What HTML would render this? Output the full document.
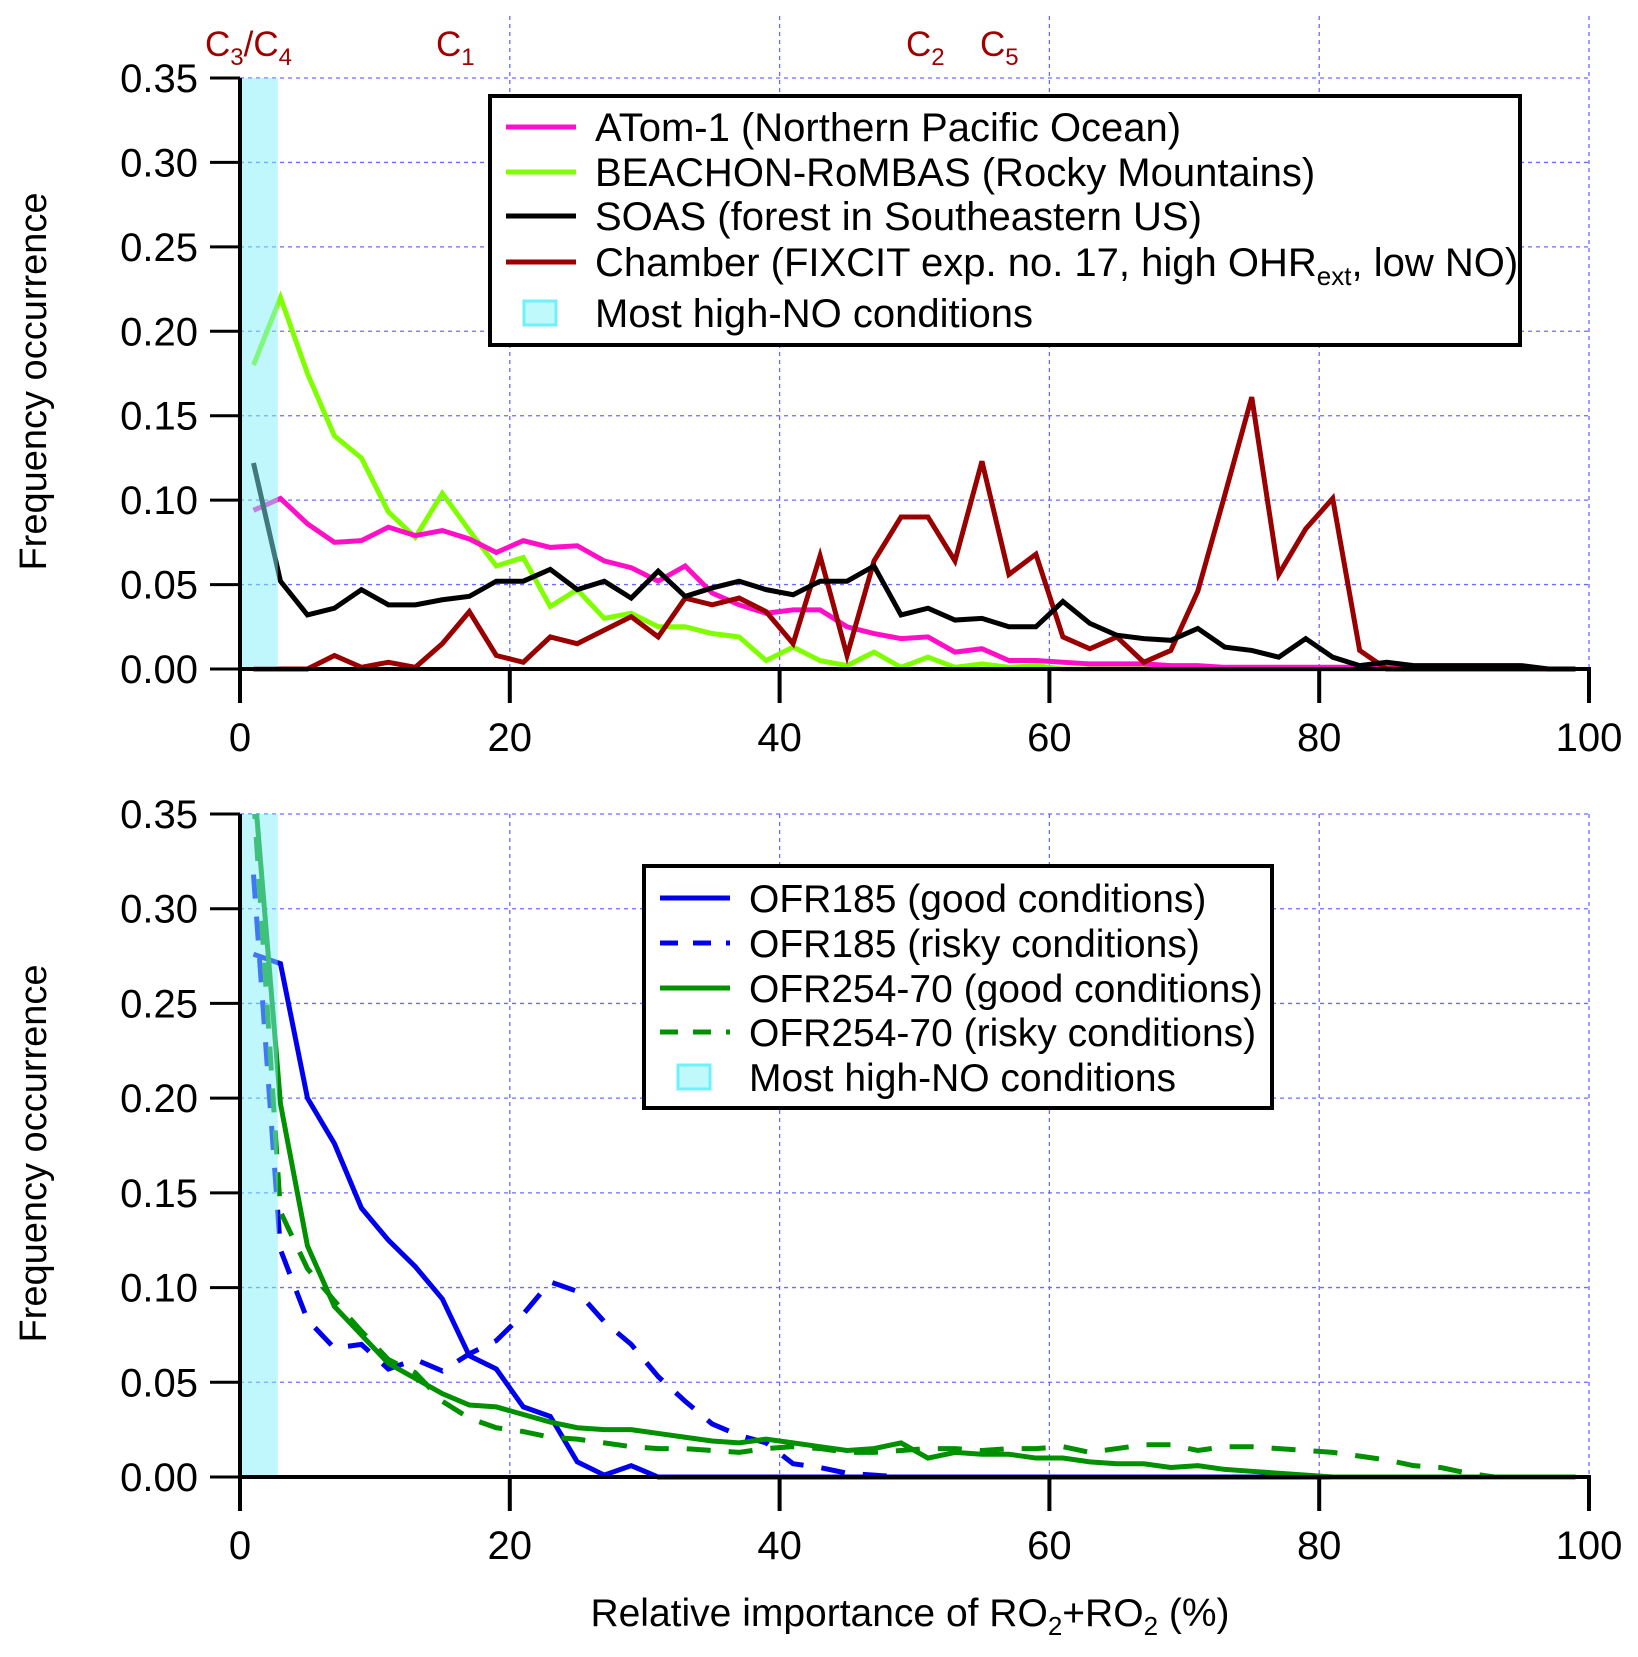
<!DOCTYPE html>
<html><head><meta charset="utf-8"><style>
html,body{margin:0;padding:0;background:#fff;}
svg{display:block;font-family:"Liberation Sans",Arial,sans-serif;}
</style></head><body>
<svg id="chart" width="1638" height="1657" viewBox="0 0 1638 1657" xmlns="http://www.w3.org/2000/svg">
<defs>
<clipPath id="clipTop"><rect x="240" y="78" width="1350" height="594"/></clipPath>
<clipPath id="clipBot"><rect x="240" y="814" width="1350" height="666"/></clipPath>
</defs>
<g id="top"></g>
<g id="bot"></g>
<text x="910" y="1626" text-anchor="middle" font-size="39">Relative importance of RO<tspan font-size="26" dy="9">2</tspan><tspan dy="-9">+RO</tspan><tspan font-size="26" dy="9">2</tspan><tspan dy="-9"> (%)</tspan></text>
<g fill="#a00000" font-size="35">
<text x="205" y="56">C<tspan font-size="24" dy="9">3</tspan><tspan dy="-9">/C</tspan><tspan font-size="24" dy="9">4</tspan></text>
<text x="436" y="56">C<tspan font-size="24" dy="9">1</tspan></text>
<text x="906" y="56">C<tspan font-size="24" dy="9">2</tspan></text>
<text x="980" y="56">C<tspan font-size="24" dy="9">5</tspan></text>
</g>
</svg>
<script>
const xs = [1,3,5,7,9,11,13,15,17,19,21,23,25,27,29,31,33,35,37,39,41,43,45,47,49,51,53,55,57,59,61,63,65,67,69,71,73,75,77,79,81,83,85,87,89,91,93,95,97,99];
const atom = [0.094,0.101,0.086,0.075,0.076,0.084,0.079,0.082,0.077,0.069,0.076,0.072,0.073,0.064,0.060,0.052,0.061,0.045,0.038,0.033,0.035,0.035,0.025,0.021,0.018,0.019,0.010,0.012,0.005,0.005,0.004,0.003,0.003,0.003,0.002,0.002,0.001,0.001,0.001,0.001,0.001,0.001,0.001,0,0,0,0,0,0,0];
const beachon = [0.18,0.22,0.175,0.138,0.125,0.093,0.078,0.104,0.082,0.061,0.066,0.037,0.047,0.030,0.033,0.025,0.025,0.021,0.019,0.005,0.013,0.005,0.002,0.010,0.001,0.007,0.001,0.003,0.001,0.002,0,0,0,0,0,0,0,0,0,0,0,0,0];
const soas = [0.122,0.052,0.032,0.036,0.047,0.038,0.038,0.041,0.043,0.052,0.052,0.059,0.047,0.052,0.042,0.058,0.043,0.048,0.052,0.047,0.044,0.052,0.052,0.061,0.032,0.036,0.029,0.030,0.025,0.025,0.040,0.027,0.020,0.018,0.017,0.024,0.013,0.011,0.007,0.018,0.007,0.002,0.004,0.002,0.002,0.002,0.002,0.002,0,0];
const chamber = [0,0,0,0.008,0.001,0.004,0.001,0.015,0.034,0.008,0.004,0.019,0.015,0.023,0.031,0.019,0.042,0.038,0.042,0.034,0.015,0.067,0.008,0.064,0.090,0.090,0.064,0.123,0.056,0.068,0.019,0.012,0.019,0.004,0.011,0.046,0.103,0.161,0.056,0.083,0.101,0.011,0,0,0,0,0,0,0,0];
const ofr185Good = [0.276,0.271,0.200,0.176,0.142,0.125,0.111,0.094,0.064,0.057,0.037,0.032,0.008,0.001,0.006,0,0,0,0,0,0,0,0,0,0,0,0,0,0,0,0,0,0,0,0,0,0,0,0,0,0,0,0,0,0,0,0,0,0,0];
const ofr185Risky = [0.318,0.120,0.083,0.068,0.070,0.057,0.062,0.056,0.065,0.072,0.086,0.103,0.098,0.082,0.070,0.053,0.040,0.028,0.022,0.018,0.007,0.005,0.002,0.001,0,0,0,0,0,0,0,0,0,0,0,0,0,0,0,0,0,0,0,0,0,0,0,0,0,0];
const ofr254Good = [0.37,0.197,0.122,0.090,0.075,0.060,0.052,0.044,0.038,0.037,0.033,0.029,0.026,0.025,0.025,0.023,0.021,0.019,0.018,0.020,0.018,0.016,0.014,0.015,0.018,0.010,0.013,0.012,0.012,0.010,0.010,0.008,0.007,0.007,0.005,0.006,0.004,0.003,0.002,0.001,0,0,0,0,0,0,0,0,0,0];
const ofr254Risky = [0.36,0.14,0.11,0.093,0.077,0.062,0.055,0.040,0.031,0.026,0.024,0.021,0.020,0.018,0.016,0.015,0.015,0.014,0.013,0.015,0.016,0.015,0.013,0.013,0.014,0.015,0.015,0.014,0.015,0.015,0.016,0.013,0.015,0.017,0.017,0.014,0.016,0.016,0.015,0.014,0.013,0.011,0.009,0.006,0.005,0.002,0,0,0,0];
const yTicks = ["0.00","0.05","0.10","0.15","0.20","0.25","0.30","0.35"];
const xTicks = [0,20,40,60,80,100];

const NS = "http://www.w3.org/2000/svg";
function mk(parent, tag, attrs){const e=document.createElementNS(NS,tag);for(const k in attrs)e.setAttribute(k,attrs[k]);parent.appendChild(e);return e;}
const X0=240, X1=1589;
const xS = v => X0 + (X1-X0)*v/100;

function panel(g, y0, y35, clip, series, legend){
  const yS = v => y0 + (y35-y0)*v/0.35;
  yTicks.forEach((t,i)=>{ if(i===0) return; const y=yS(parseFloat(t));
    const l=mk(g,'line',{x1:X0,x2:X1,y1:y,y2:y,stroke:'#6b6bff','stroke-width':1.3,'stroke-dasharray':'4,4'});
    
    
  });
  xTicks.forEach(t=>{ if(t===0) return; const x=xS(t);
    const l=mk(g,'line',{x1:x,x2:x,y1:(clip==='clipTop'?16:y35),y2:y0,stroke:'#6b6bff','stroke-width':1.3,'stroke-dasharray':'4,4'});
    
    
  });
  const lg=mk(g,'g',{'clip-path':'url(#'+clip+')'});
  series.forEach(s=>{
    const pts=s.data.map((v,i)=>xS(xs[i])+','+yS(v)).join(' ');
    const p=mk(lg,'polyline',{points:pts,fill:'none',stroke:s.color,'stroke-width':5,'stroke-linejoin':'miter'});
    if(s.dash) p.setAttribute('stroke-dasharray','24,18');
    
    
  });
  const sh=mk(lg,'rect',{x:xS(0),y:y35,width:xS(2.8)-xS(0),height:y0-y35,fill:'rgba(128,240,250,0.5)'});
  
  
  const ax=mk(g,'line',{x1:X0,x2:X0,y1:y35,y2:y0+2,stroke:'#000','stroke-width':4});
  
  
  const bx=mk(g,'line',{x1:X0-2,x2:X1+2,y1:y0,y2:y0,stroke:'#000','stroke-width':4});
  
  
  yTicks.forEach(t=>{ const y=yS(parseFloat(t));
    mk(g,'line',{x1:X0-30,x2:X0,y1:y,y2:y,stroke:'#000','stroke-width':3});
    const tx=mk(g,'text',{x:X0-42,y:y+14,'text-anchor':'end','font-size':40});
    tx.textContent=t;
    
    
  });
  xTicks.forEach(t=>{ const x=xS(t);
    mk(g,'line',{x1:x,x2:x,y1:y0,y2:y0+34,stroke:'#000','stroke-width':4});
    const tx=mk(g,'text',{x:x,y:y0+82,'text-anchor':'middle','font-size':40});
    tx.textContent=t;
    
    
  });
  const yt=mk(g,'text',{x:0,y:0,'text-anchor':'middle','font-size':38,transform:'translate(46,'+((y0+y35)/2+8)+') rotate(-90)'});
  yt.textContent='Frequency occurrence';
  
  
  const L=mk(g,'g',{});
  
  
  mk(L,'rect',{x:legend.x,y:legend.y,width:legend.w,height:legend.h,fill:'#fff',stroke:'#000','stroke-width':4});
  legend.rows.forEach((r,i)=>{
    const cy=legend.rowY[i];
    if(r.box){
      mk(L,'rect',{x:legend.sx+18,y:cy-12,width:32,height:24,fill:'#bff9fc',stroke:'#6ff0fa','stroke-width':3});
    } else {
      const l=mk(L,'line',{x1:legend.sx,x2:legend.sx+70,y1:cy,y2:cy,stroke:r.color,'stroke-width':5});
      if(r.dash) l.setAttribute('stroke-dasharray','18,15');
    }
    const t=mk(L,'text',{x:legend.tx,y:cy+14,'font-size':legend.fs});
    t.innerHTML=r.label;
    
    
  });
}

panel(document.getElementById('top'), 669, 78, 'clipTop', [
  {data:beachon,color:'#80ff00',name:'beachon-line'},
  {data:atom,color:'#ff10c8',name:'atom-line'},
  {data:chamber,color:'#990000',name:'chamber-line'},
  {data:soas,color:'#000000',name:'soas-line'}
], {x:490,y:96,w:1030,h:249,sx:506,tx:595,fs:40,rowY:[127,172,216,262,313],rows:[
  {color:'#ff10c8',label:'ATom-1 (Northern Pacific Ocean)'},
  {color:'#80ff00',label:'BEACHON-RoMBAS (Rocky Mountains)'},
  {color:'#000',label:'SOAS  (forest in Southeastern US)'},
  {color:'#990000',label:'Chamber (FIXCIT exp.  no. 17, high OHR<tspan font-size="26" dy="9">ext</tspan><tspan dy="-9">, low NO)</tspan>'},
  {box:true,label:'Most high-NO conditions'}
]});

panel(document.getElementById('bot'), 1477, 814, 'clipBot', [
  {data:ofr185Good,color:'#0000ee',name:'ofr185-good-line'},
  {data:ofr185Risky,color:'#0000ee',dash:true,name:'ofr185-risky-line'},
  {data:ofr254Good,color:'#009000',name:'ofr254-good-line'},
  {data:ofr254Risky,color:'#009000',dash:true,name:'ofr254-risky-line'}
], {x:644,y:866,w:628,h:242,sx:660,tx:749,fs:39,rowY:[898,943,988,1032,1077],rows:[
  {color:'#0000ee',label:'OFR185 (good conditions)'},
  {color:'#0000ee',dash:true,label:'OFR185 (risky conditions)'},
  {color:'#009000',label:'OFR254-70 (good conditions)'},
  {color:'#009000',dash:true,label:'OFR254-70 (risky conditions)'},
  {box:true,label:'Most high-NO conditions'}
]});
</script>
</body></html>
